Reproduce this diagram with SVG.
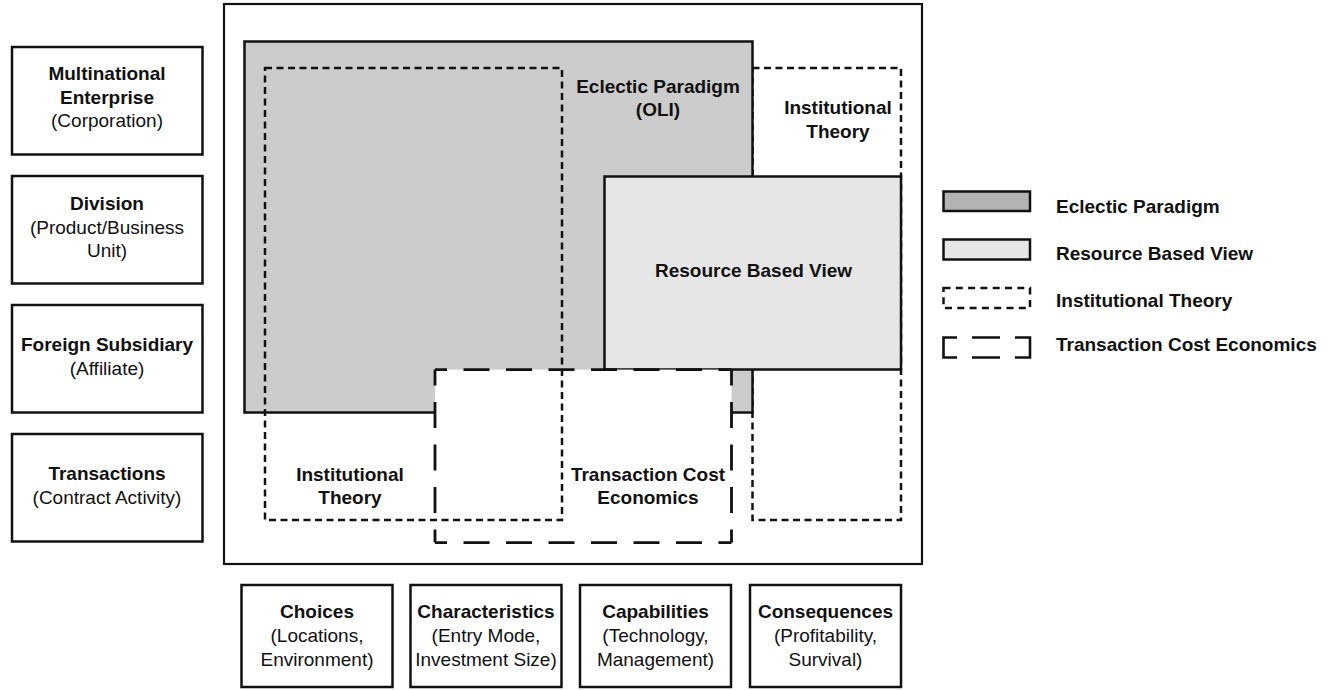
<svg xmlns="http://www.w3.org/2000/svg" width="1333" height="690" viewBox="0 0 1333 690">
<style>
text{font-family:"Liberation Sans",Arial,sans-serif;font-size:19px;fill:#111;text-anchor:middle}
.b{font-weight:bold}
.lg{text-anchor:start;font-weight:bold}
.box{fill:#fff;stroke:#111;stroke-width:2.5}
.frame{fill:#fff;stroke:#111;stroke-width:2.2}
.ep{fill:#ccc;stroke:#111;stroke-width:2.5}
.rbv{fill:#e6e6e6;stroke:#111;stroke-width:2.5}
.it{fill:none;stroke:#111;stroke-width:2.5;stroke-dasharray:7 4.5}
.tce{fill:none;stroke:#111;stroke-width:2.8;stroke-dasharray:26 16.5}
</style>
<rect width="1333" height="690" fill="#fff"/>

<g id="levels">
<g id="mne"><rect class="box" x="12" y="47" width="190.5" height="107.5"/>
<text class="b" x="107" y="80">Multinational</text><text class="b" x="107" y="103.5">Enterprise</text><text x="107" y="127">(Corporation)</text></g>
<g id="division"><rect class="box" x="12" y="176" width="190.5" height="107.5"/>
<text class="b" x="107" y="210">Division</text><text x="107" y="233.5">(Product/Business</text><text x="107" y="257">Unit)</text></g>
<g id="subsidiary"><rect class="box" x="12" y="305" width="190.5" height="107.5"/>
<text class="b" x="107" y="351">Foreign Subsidiary</text><text x="107" y="374.5">(Affiliate)</text></g>
<g id="transactions"><rect class="box" x="12" y="434" width="190.5" height="107.5"/>
<text class="b" x="107" y="480">Transactions</text><text x="107" y="503.5">(Contract Activity)</text></g>
</g>

<g id="frame"><rect class="frame" x="224" y="4" width="698" height="560"/></g>

<g id="institutional-right"><rect x="752.5" y="68" width="148.5" height="452" fill="#fff" stroke="#111" stroke-width="2.5" stroke-dasharray="7 4.5"/>
<text class="b" x="838" y="114">Institutional</text><text class="b" x="838" y="138">Theory</text></g>

<g id="eclectic"><rect class="ep" x="244.5" y="41.5" width="508" height="371"/>
<text class="b" x="658" y="93">Eclectic Paradigm</text><text class="b" x="658" y="116">(OLI)</text></g>

<g id="rbv"><rect class="rbv" x="604.5" y="176.5" width="296.5" height="193"/>
<text class="b" x="753.5" y="277">Resource Based View</text></g>

<g id="tce">
<rect x="435" y="369.6" width="296.5" height="173" fill="#fff"/>
<g class="tce" style="stroke-dashoffset:14">
<line x1="435" y1="369.6" x2="731.5" y2="369.6"/>
<line x1="435" y1="542.6" x2="731.5" y2="542.6"/>
</g>
<g class="tce" style="stroke-dashoffset:10">
<line x1="435" y1="369.6" x2="435" y2="542.6"/>
<line x1="731.5" y1="369.6" x2="731.5" y2="542.6"/>
</g>
<text class="b" x="648" y="481">Transaction Cost</text><text class="b" x="648" y="504">Economics</text>
</g>

<g id="institutional-left"><rect class="it" x="265" y="68" width="297" height="452"/>
<text class="b" x="350" y="481">Institutional</text><text class="b" x="350" y="504">Theory</text></g>

<g id="dimensions">
<g id="choices"><rect class="box" x="241.5" y="585" width="151" height="102"/>
<text class="b" x="317" y="618">Choices</text><text x="317" y="642">(Locations,</text><text x="317" y="666">Environment)</text></g>
<g id="characteristics"><rect class="box" x="410.5" y="585" width="151" height="102"/>
<text class="b" x="486" y="618">Characteristics</text><text x="486" y="642">(Entry Mode,</text><text x="486" y="666">Investment Size)</text></g>
<g id="capabilities"><rect class="box" x="580" y="585" width="151" height="102"/>
<text class="b" x="655.5" y="618">Capabilities</text><text x="655.5" y="642">(Technology,</text><text x="655.5" y="666">Management)</text></g>
<g id="consequences"><rect class="box" x="750" y="585" width="151" height="102"/>
<text class="b" x="825.5" y="618">Consequences</text><text x="825.5" y="642">(Profitability,</text><text x="825.5" y="666">Survival)</text></g>
</g>

<g id="legend">
<g id="legend-ep"><rect x="943.5" y="191.5" width="86.5" height="19.5" fill="#b3b3b3" stroke="#111" stroke-width="2.5"/>
<text class="lg" x="1056" y="213">Eclectic Paradigm</text></g>
<g id="legend-rbv"><rect x="943.5" y="239.5" width="86.5" height="20" fill="#e6e6e6" stroke="#111" stroke-width="2.5"/>
<text class="lg" x="1056" y="260">Resource Based View</text></g>
<g id="legend-it"><rect x="943.5" y="288" width="86.5" height="20" fill="none" stroke="#111" stroke-width="2.5" stroke-dasharray="7 5.3"/>
<text class="lg" x="1056" y="307">Institutional Theory</text></g>
<g id="legend-tce" fill="none" stroke="#111" stroke-width="2.6">
<path d="M957,337.5 H943.5 V357.5 H957"/>
<path d="M972,337.5 H1000 M972,357.5 H1000"/>
<path d="M1015,337.5 H1030 V357.5 H1015"/>
<text class="lg" x="1056" y="351" stroke="none">Transaction Cost Economics</text></g>
</g>
</svg>
